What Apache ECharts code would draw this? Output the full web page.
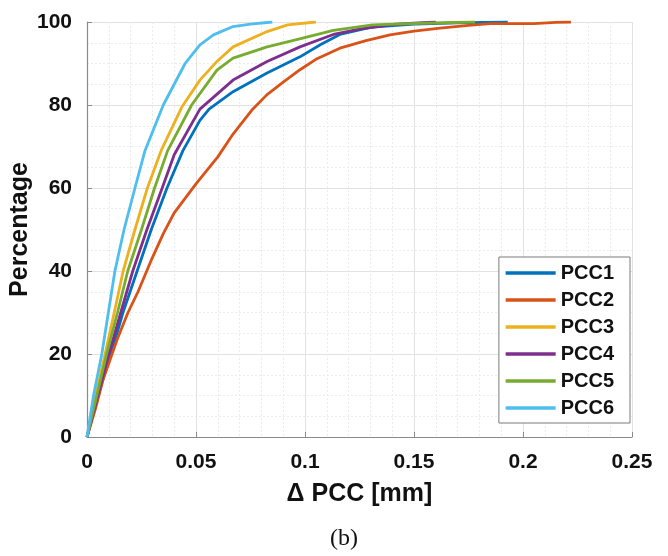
<!DOCTYPE html>
<html>
<head>
<meta charset="utf-8">
<script src="https://cdn.jsdelivr.net/npm/echarts@6/dist/echarts.min.js"></script>
<style>
html,body{margin:0;padding:0;background:#fff;}
#c{width:668px;height:556px;}
</style>
</head>
<body>
<div id="c"></div>
<script>
// Series names and colours
var seriesNames = ['PCC1', 'PCC2', 'PCC3', 'PCC4', 'PCC5', 'PCC6'];
var seriesColors = ['#0072BD', '#D95319', '#EDB120', '#7E2F8E', '#77AC30', '#4DBEEE'];

// Δ PCC [mm] (x) and Percentage (y) per series
var pcc1X = [0, 0.005, 0.011, 0.0165, 0.023, 0.0295, 0.0367, 0.044, 0.0518, 0.056, 0.067, 0.0826, 0.0977, 0.107, 0.116, 0.131, 0.15, 0.17, 0.193];
var pcc1Y = [0, 10, 20, 30, 40, 50, 60, 69, 76.3, 79, 83.2, 87.7, 91.6, 94.5, 97, 98.8, 99.5, 99.8, 100];

var pcc2X = [0, 0.004, 0.0073, 0.0105, 0.0142, 0.0188, 0.0234, 0.0298, 0.035, 0.04, 0.05, 0.06, 0.067, 0.076, 0.0826, 0.09, 0.0977, 0.105, 0.116, 0.128, 0.139, 0.15, 0.162, 0.175, 0.185, 0.205, 0.215, 0.222];
var pcc2Y = [0, 7, 13.7, 18.5, 24, 30, 35, 43, 49, 54, 61, 67.5, 73, 79, 82.5, 85.5, 88.5, 91, 93.7, 95.5, 96.9, 97.8, 98.5, 99.2, 99.6, 99.6, 99.9, 100];

var pcc3X = [0, 0.004, 0.0083, 0.0125, 0.0166, 0.022, 0.0277, 0.034, 0.0435, 0.0518, 0.0596, 0.067, 0.0826, 0.092, 0.105];
var pcc3Y = [0, 10, 20, 30, 40, 50, 60, 69, 79.5, 86, 90.5, 94, 97.7, 99.3, 100];

var pcc4X = [0, 0.005, 0.010, 0.0155, 0.021, 0.0275, 0.0345, 0.040, 0.0518, 0.067, 0.0826, 0.0977, 0.113, 0.125, 0.14, 0.16];
var pcc4Y = [0, 10, 20, 30, 40, 50, 60, 68, 79, 86, 90.5, 94, 97, 98.3, 99.4, 100];

var pcc5X = [0, 0.0045, 0.009, 0.014, 0.0187, 0.025, 0.031, 0.037, 0.048, 0.0596, 0.067, 0.0826, 0.098, 0.113, 0.131, 0.154, 0.178];
var pcc5Y = [0, 10, 20, 30, 40, 50, 60, 69, 80, 88.4, 91.3, 94, 96, 98, 99.3, 99.7, 100];

var pcc6X = [0, 0.003, 0.0068, 0.0098, 0.0128, 0.017, 0.022, 0.0266, 0.035, 0.045, 0.0495, 0.0518, 0.058, 0.067, 0.075, 0.085];
var pcc6Y = [0, 10, 20, 30, 40, 50, 60, 69, 80, 90, 93, 94.5, 96.9, 98.9, 99.5, 100];

var xTicks = ['0', '0.05', '0.1', '0.15', '0.2', '0.25'];
var yTicks = ['0', '20', '40', '60', '80', '100'];

var allX = [pcc1X, pcc2X, pcc3X, pcc4X, pcc5X, pcc6X];
var allY = [pcc1Y, pcc2Y, pcc3Y, pcc4Y, pcc5Y, pcc6Y];

function pairs(xs, ys) {
  var out = [];
  for (var i = 0; i < xs.length; i++) out.push([xs[i], ys[i]]);
  return out;
}

var series = seriesNames.map(function (n, i) {
  return {
    name: n,
    type: 'line',
    data: pairs(allX[i], allY[i]),
    showSymbol: false,
    symbol: 'none',
    smooth: false,
    lineStyle: { width: 2.8, color: seriesColors[i] },
    itemStyle: { color: seriesColors[i] },
    z: 3 + i
  };
});

var FONT = 'Liberation Sans, Arial, sans-serif';
var labelFont = { fontFamily: FONT, fontWeight: 'bold', fontSize: 21, color: '#111' };

var chart = echarts.init(document.getElementById('c'), null, { renderer: 'canvas' });
chart.setOption({
  animation: false,
  backgroundColor: '#fff',
  grid: { left: 87, right: 36, top: 22, bottom: 119, containLabel: false, outerBoundsMode: 'none' },
  xAxis: {
    type: 'value', min: 0, max: 0.25, interval: 0.05,
    axisLine: { show: true, lineStyle: { color: '#8a8a8a', width: 1.2 } },
    axisTick: { show: true, inside: true, length: 5, lineStyle: { color: '#8a8a8a' } },
    minorTick: { show: false, splitNumber: 5 },
    splitLine: { show: true, lineStyle: { color: '#e2e2e2', width: 1 } },
    minorSplitLine: { show: true, lineStyle: { color: '#ececec', width: 1, type: [2, 2] } },
    axisLabel: Object.assign({ margin: 15, formatter: function (v) { return xTicks[Math.round(v / 0.05)]; } }, labelFont),
    name: 'Δ PCC [mm]', nameLocation: 'middle', nameGap: 45, nameMoveOverlap: false,
    nameTextStyle: { fontFamily: FONT, fontWeight: 'bold', fontSize: 25, color: '#111' }
  },
  yAxis: {
    type: 'value', min: 0, max: 100, interval: 20,
    axisLine: { show: true, lineStyle: { color: '#8a8a8a', width: 1.2 } },
    axisTick: { show: true, inside: true, length: 5, lineStyle: { color: '#8a8a8a' } },
    minorTick: { show: false, splitNumber: 4 },
    splitLine: { show: true, lineStyle: { color: '#e2e2e2', width: 1 } },
    minorSplitLine: { show: true, lineStyle: { color: '#ececec', width: 1, type: [2, 2] } },
    axisLabel: Object.assign({ margin: 15, formatter: function (v) { return yTicks[Math.round(v / 20)]; } }, labelFont),
    name: 'Percentage', nameLocation: 'middle', nameGap: 54, nameRotate: 90, nameMoveOverlap: false,
    nameTextStyle: { fontFamily: FONT, fontWeight: 'bold', fontSize: 25, color: '#111' }
  },
  legend: {
    data: seriesNames,
    orient: 'vertical',
    right: 38, top: 257,
    itemWidth: 50, itemHeight: 14, itemGap: 7,
    padding: [6, 16, 5, 5],
    backgroundColor: '#fff',
    borderColor: '#7a7a7a', borderWidth: 1,
    textStyle: { fontFamily: FONT, fontWeight: 'bold', fontSize: 20, color: '#111', lineHeight: 20 },
    lineStyle: { width: 3.5 },
    itemStyle: { opacity: 0 }
  },
  graphic: [{
    type: 'text', left: 330, top: 527,
    style: { text: '(b)', font: '24px "Liberation Serif", "DejaVu Serif", serif', fill: '#111' }
  }],
  series: series
});
</script>
</body>
</html>
